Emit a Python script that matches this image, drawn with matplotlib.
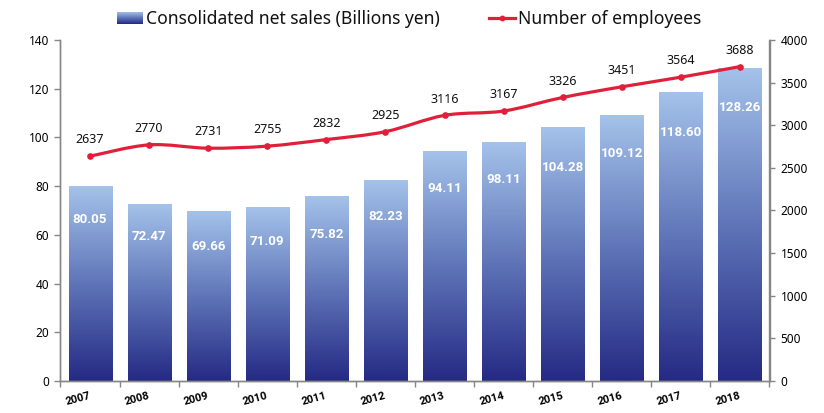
import numpy as np
import matplotlib
matplotlib.use("Agg")
import matplotlib.pyplot as plt
from matplotlib.colors import LinearSegmentedColormap
from matplotlib.legend_handler import HandlerBase
from matplotlib.lines import Line2D
from matplotlib.patches import PathPatch, Patch, Rectangle
from matplotlib.path import Path
from matplotlib.transforms import ScaledTranslation

years = [2007, 2008, 2009, 2010, 2011, 2012, 2013, 2014, 2015, 2016, 2017, 2018]
sales = [80.05, 72.47, 69.66, 71.09, 75.82, 82.23, 94.11, 98.11, 104.28, 109.12, 118.60, 128.26]
employees = [2637, 2770, 2731, 2755, 2832, 2925, 3116, 3167, 3326, 3451, 3564, 3688]
sales_label = "Consolidated net sales (Billions yen)"
emp_label = "Number of employees"
# how far each value label sits below its bar top, in pixels
label_drop = [33.5, 32, 35, 34, 38, 36, 37, 37, 40, 38, 40, 39]

plt.rcParams['font.family'] = ['Noto Sans', 'DejaVu Sans']
W, H = 824, 413
fig = plt.figure(figsize=(W / 100, H / 100), dpi=100)
L, R, T, B = 60.5, 769.5, 40.0, 381.0
ax = fig.add_axes([L / W, 1 - B / H, (R - L) / W, (B - T) / H])
ax2 = ax.twinx()

TOP, BOT = "#A4C2EA", "#252A84"
cmap = LinearSegmentedColormap.from_list("g", [BOT, "#5F75B8", TOP])
grad = np.linspace(0, 1, 256).reshape(-1, 1)
x = np.arange(len(years))
width = 0.728
for xi, v, d in zip(x, sales, label_drop):
    ax.imshow(grad, extent=(xi - width / 2, xi + width / 2, 0, v), origin="lower",
              cmap=cmap, aspect="auto", zorder=2, vmin=0, vmax=1)
    ax.annotate(f"{v:.2f}", (xi, v), xytext=(0, -d), textcoords="offset pixels", color="white",
                fontsize=9.6, fontweight="bold", family="Roboto", ha="center", va="center", zorder=3)

ax.set_xlim(-0.5, len(years) - 0.5)
ax.set_ylim(0, 140)
ax.set_yticks(range(0, 141, 20))
ax.set_xticks(np.arange(-0.5, len(years)), minor=False, labels=[])
ax.set_xticks(x, minor=True, labels=[str(y) for y in years])
ax.tick_params(axis="x", which="minor", length=0, pad=7, labelsize=8, labelrotation=15)
shift = ScaledTranslation(-12 / 100, 0, fig.dpi_scale_trans)
for t in ax.get_xticklabels(minor=True):
    t.set_fontweight("bold")
    t.set_family("Roboto")
    t.set_transform(t.get_transform() + shift)
ax.tick_params(axis="x", which="major", length=4, width=1, color="#868686")
ax.tick_params(axis="y", length=4, width=1, color="#868686", labelsize=8.5, pad=4)

ax2.set_ylim(0, 4000)
ax2.set_yticks(range(0, 4001, 500))
ax2.tick_params(axis="y", length=4, width=1, color="#868686", labelsize=8.5, pad=4)
for a in (ax, ax2):
    a.spines["top"].set_visible(False)
    for s in ("left", "right", "bottom"):
        a.spines[s].set_color("#868686")
        a.spines[s].set_linewidth(1)

# smooth Excel-style line as Bezier segments through the data values
RED = "#E0203A"
px, py = x.astype(float), np.array(employees, float)
verts = [(px[0], py[0])]
codes = [Path.MOVETO]
for i in range(len(px) - 1):
    p0 = i - 1 if i > 0 else i
    p3 = i + 2 if i + 2 < len(px) else i + 1
    verts += [(px[i] + (px[i + 1] - px[p0]) / 6, py[i] + (py[i + 1] - py[p0]) / 6),
              (px[i + 1] - (px[p3] - px[i]) / 6, py[i + 1] - (py[p3] - py[i]) / 6),
              (px[i + 1], py[i + 1])]
    codes += [Path.CURVE4] * 3
ax2.add_patch(PathPatch(Path(verts, codes), fc="none", ec=RED, lw=2.3, zorder=4))
ax2.plot(x, employees, ls="none", marker="o", ms=3.8, color=RED, zorder=5)
for xi, v in zip(x, employees):
    ax2.annotate(str(v), (xi, v), xytext=(0, 7), textcoords="offset points", ha="center", va="bottom",
                 fontsize=9, color="#111111")


class GradHandler(HandlerBase):
    def create_artists(self, legend, orig, xd, yd, w, h, fs, trans):
        n = 24
        out = []
        for i in range(n):
            out.append(Rectangle((-xd, -yd + h * i / n), w, h / n + 0.2, fc=cmap((i + 0.5) / n), ec="none",
                                 transform=trans))
        return out


hb = Patch(label=sales_label)
hl = Line2D([], [], color=RED, lw=2.3, marker="o", ms=3.2, label=emp_label)
leg = fig.legend(handles=[hb, hl], handler_map={Patch: GradHandler()}, ncol=2, frameon=False,
                 loc="center left", bbox_to_anchor=(117 / W, 1 - 19 / H), borderaxespad=0, borderpad=0,
                 fontsize=12.6, handlelength=1.49, handletextpad=0.17, columnspacing=2.8, handleheight=0.69)
for t in leg.get_texts():
    t.set_color("#111111")

fig.savefig("out.png", dpi=100)
